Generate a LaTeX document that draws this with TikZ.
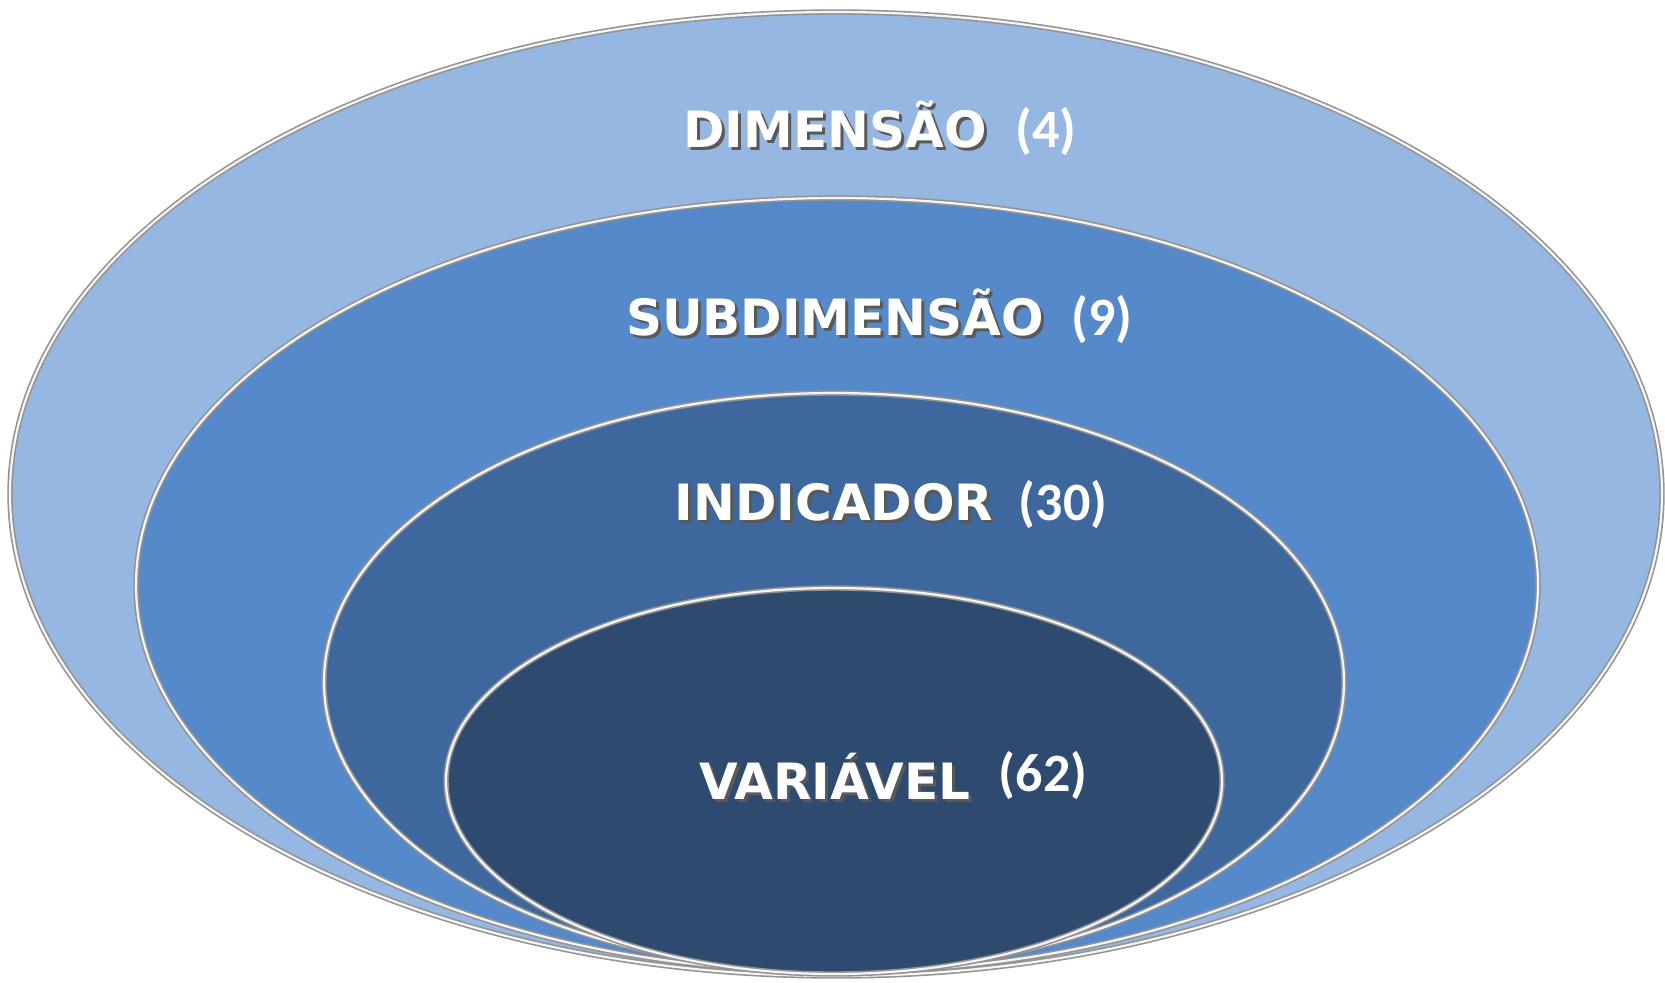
\documentclass[tikz,border=0pt]{standalone}
\usepackage{fontspec}
\usepackage{tikz}

\newfontfamily\capsfont{DejaVu Sans}
\newfontfamily\countfont{Carlito}

\definecolor{ringA}{RGB}{149,183,225}
\definecolor{ringB}{RGB}{85,137,201}
\definecolor{ringC}{RGB}{61,103,157}
\definecolor{ringD}{RGB}{46,74,110}

\newcommand{\shadowed}[1]{\rlap{\hspace{1.5pt}\raisebox{-1.5pt}{\textcolor{black!65}{#1}}}#1}

\tikzset{
	ring/.style={draw=gray!85, double=white!92!gray, double distance=1.1pt, line width=0.8pt},
	level/.style={font=\capsfont\bfseries\fontsize{25}{30}\selectfont, text=white, inner sep=0pt, anchor=base},
	count/.style={font=\countfont\bfseries\fontsize{27}{32}\selectfont, text=white, inner sep=0pt, anchor=base}
}

\begin{document}
\begin{tikzpicture}[x=0.5pt,y=-0.5pt]
	\useasboundingbox (0,0) rectangle (1665,982);

	\draw[ring,fill=ringA] (836,494) ellipse [x radius=826, y radius=482];
	\draw[ring,fill=ringB] (837,585) ellipse [x radius=701, y radius=387];
	\draw[ring,fill=ringC] (834,682) ellipse [x radius=510, y radius=289];
	\draw[ring,fill=ringD] (834,781) ellipse [x radius=388, y radius=193];

	\node[level] (dim) at (835,147) {\shadowed{DIMENSÃO}};
	\node[count] (dimc) at (1046,147) {(4)};

	\node[level] (sub) at (835,335) {\shadowed{SUBDIMENSÃO}};
	\node[count] (subc) at (1102,335) {(9)};

	\node[level] (ind) at (834,520) {\shadowed{INDICADOR}};
	\node[count] (indc) at (1063,520) {(30)};

	\node[level] (var) at (835,799) {\shadowed{VARIÁVEL}};
	\node[count] (varc) at (1043,791) {(62)};
\end{tikzpicture}
\end{document}
